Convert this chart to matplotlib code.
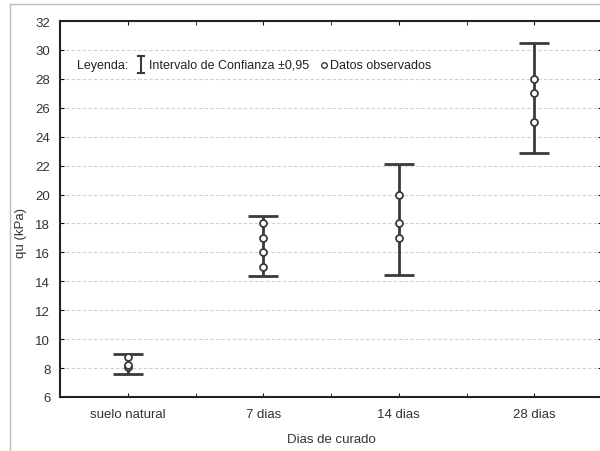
import matplotlib
matplotlib.use("Agg")
import matplotlib.pyplot as plt
from matplotlib.lines import Line2D
import numpy as np

plt.rcParams['font.family'] = ['Liberation Sans', 'DejaVu Sans']

categorias = ['suelo natural', '7 dias', '14 dias', '28 dias']
ic_inf = [7.6, 14.4, 14.45, 22.85]
ic_sup = [9.0, 18.55, 22.1, 30.45]
observados = [
    [8.1, 8.2, 8.8],
    [15, 16, 17, 18],
    [17, 18, 20],
    [25, 27, 28],
]

col = '#3a3a3a'

fig = plt.figure(figsize=(6, 4.52), dpi=100)
ax = fig.add_axes([60/600, 54/452, 542/600, 376/452])

x = np.arange(len(categorias))
centro = [(a + b) / 2 for a, b in zip(ic_inf, ic_sup)]
err = [[c - a for c, a in zip(centro, ic_inf)], [b - c for b, c in zip(ic_sup, centro)]]
ax.errorbar(x, centro, yerr=err, fmt='none', ecolor=col, elinewidth=2,
            capsize=11, capthick=2, zorder=3)

for i, pts in enumerate(observados):
    ax.plot([x[i]] * len(pts), pts, 'o', ms=5, mfc='white', mec=col, mew=1.3, zorder=4)

ax.set_xlim(-0.5, 3.5)
ax.set_ylim(6, 32)
ax.set_yticks(np.arange(6, 33, 2))
ax.set_xticks(x)
ax.set_xticks(x[:-1] + 0.5, minor=True)
ax.set_xticklabels(categorias)
ax.yaxis.grid(True, color='#cfcfcf', linestyle=(0, (3, 2)), linewidth=0.8)
ax.set_axisbelow(True)

ax.tick_params(axis='both', which='both', direction='in', top=True, right=True,
               labelsize=9.5, colors='#111111', labelcolor='#333333', length=3)
ax.tick_params(axis='x', pad=8)
ax.tick_params(axis='y', pad=7)
for s in ax.spines.values():
    s.set_linewidth(1.5)
    s.set_color('#222222')

ax.set_ylabel('qu (kPa)', fontsize=9.5, color='#333333')
ax.yaxis.set_label_coords(-0.06, 0.44)
ax.set_xlabel('Dias de curado', fontsize=9.5, color='#333333', labelpad=9)

# leyenda
ty = 0.883
ax.text(0.031, ty, 'Leyenda:', transform=ax.transAxes, fontsize=9, va='center', color='#222222')
lx = 0.149
h = 0.0226
ax.add_line(Line2D([lx, lx], [ty - h, ty + h], transform=ax.transAxes, color=col, lw=1.5))
for yy in (ty - h, ty + h):
    ax.add_line(Line2D([lx - 0.006, lx + 0.006], [yy, yy], transform=ax.transAxes, color=col, lw=1.5))
ax.text(0.164, ty, 'Intervalo de Confianza \u00b10,95', transform=ax.transAxes,
        fontsize=9, va='center', color='#222222')
ax.plot([0.487], [ty], 'o', ms=4, mfc='white', mec=col, mew=1, transform=ax.transAxes)
ax.text(0.498, ty, 'Datos observados', transform=ax.transAxes, fontsize=9, va='center', color='#222222')

# marco exterior
fig.add_artist(Line2D([10/600, 10/600], [0, 1 - 5/452], transform=fig.transFigure, color='#bbbbbb', lw=1))
fig.add_artist(Line2D([10/600, 1], [1 - 5/452, 1 - 5/452], transform=fig.transFigure, color='#bbbbbb', lw=1))

fig.savefig('out.png', dpi=100)
